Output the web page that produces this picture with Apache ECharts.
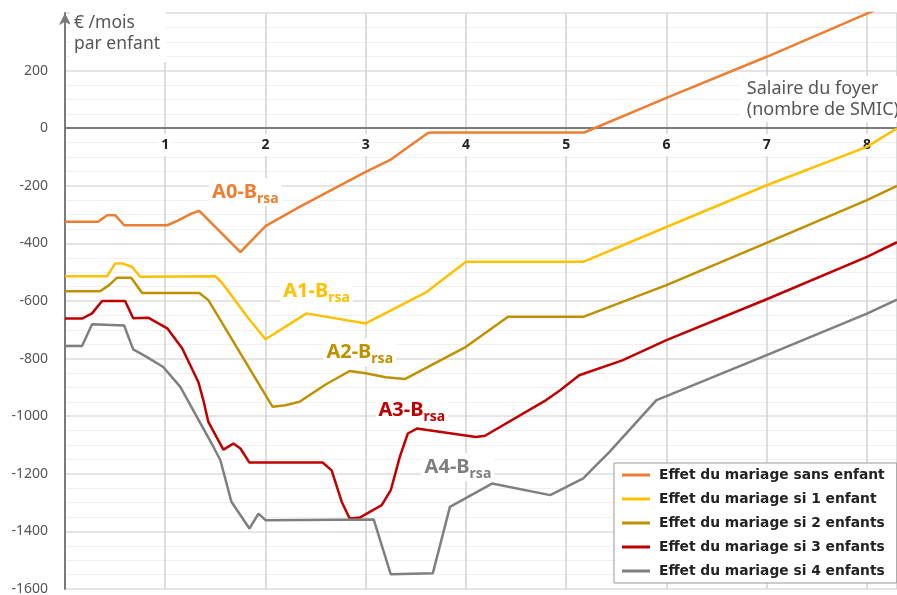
<!DOCTYPE html>
<html>
<head>
<meta charset="utf-8">
<script src="https://cdn.jsdelivr.net/npm/echarts@6/dist/echarts.min.js"></script>
<style>
  html, body { margin: 0; padding: 0; background: #fff; }
  #chart { width: 897px; height: 595px; }
</style>
</head>
<body>
<div id="chart"></div>
<script>
// Effet du mariage (€ / mois par enfant) selon le salaire du foyer (nombre de SMIC)
const seriesNames = [
  'Effet du mariage sans enfant',
  'Effet du mariage si 1 enfant',
  'Effet du mariage si 2 enfants',
  'Effet du mariage si 3 enfants',
  'Effet du mariage si 4 enfants'
];
const curveNames = ['A0', 'A1', 'A2', 'A3', 'A4'];
const colors = ['#ED7D31', '#FFC000', '#BF9000', '#C00000', '#7F7F7F'];

// [salaire (SMIC), effet (€)]
const a0 = [[0,-325],[0.33,-325],[0.42,-302],[0.5,-302],[0.59,-337],[1.02,-337],[1.12,-322],[1.25,-298],[1.34,-287],
  [1.75,-430],[2.0,-340],[2.34,-273],[3.0,-152],[3.24,-111],[3.62,-17],[3.66,-15],[5.18,-15],[6,105],[7,248],[8,398],[8.3,440]];
const a1 = [[0,-514],[0.42,-514],[0.5,-470],[0.58,-470],[0.67,-482],[0.75,-516],[1.5,-514],[1.56,-534],[1.83,-660],
  [2.0,-733],[2.41,-643],[3.0,-678],[3.61,-568],[4.0,-464],[5.17,-464],[6,-343],[7,-198],[8,-65],[8.3,0]];
const a2 = [[0,-566],[0.35,-566],[0.44,-545],[0.52,-519],[0.66,-519],[0.77,-572],[1.34,-572],[1.43,-597],[2.07,-967],
  [2.2,-962],[2.34,-950],[2.6,-890],[2.84,-843],[3.0,-851],[3.2,-865],[3.39,-871],[4.0,-759],[4.42,-655],[5.17,-655],
  [6,-545],[7,-398],[8,-250],[8.3,-200]];
const a3 = [[0,-661],[0.17,-661],[0.27,-643],[0.37,-600],[0.6,-600],[0.68,-660],[0.83,-658],[1.02,-695],[1.17,-765],
  [1.33,-881],[1.38,-944],[1.43,-1020],[1.58,-1116],[1.68,-1095],[1.75,-1112],[1.84,-1161],[2.57,-1161],[2.66,-1188],
  [2.76,-1297],[2.84,-1355],[2.94,-1352],[3.16,-1309],[3.25,-1257],[3.34,-1141],[3.42,-1060],[3.51,-1043],[4.1,-1072],
  [4.19,-1068],[4.8,-944],[4.94,-910],[5.13,-858],[5.56,-806],[6,-736],[7,-594],[8,-447],[8.3,-396]];
const a4 = [[0,-756],[0.17,-756],[0.27,-681],[0.59,-685],[0.68,-768],[0.81,-793],[0.98,-829],[1.15,-898],[1.48,-1106],
  [1.55,-1153],[1.66,-1297],[1.84,-1390],[1.93,-1338],[2.0,-1361],[3.08,-1359],[3.25,-1549],[3.67,-1545],[3.84,-1315],
  [4.26,-1234],[4.84,-1274],[5.17,-1216],[5.3,-1170],[5.43,-1125],[5.9,-944],[6,-930],[7,-788],[8,-644],[8.3,-595]];
const allData = [a0, a1, a2, a3, a4];

// annotation anchors (data coords) for the "Ax-Brsa" labels
const labelAt = [[1.8,-222],[2.51,-566],[2.94,-778],[3.46,-979],[3.92,-1177]];

const yTicks = { min: -1600, max: 400, step: 200 };
const xTicks = { min: 0, max: 8.3, step: 1 };

const font = 'Noto Sans';
const gridTop = 13, gridBottom = 6, H = 595;
// put the x axis (line + labels) on y = 0
const zeroOffset = (H - gridTop - gridBottom) * yTicks.max / (yTicks.max - yTicks.min);

const chart = echarts.init(document.getElementById('chart'));

const series = allData.map((d, i) => ({
  name: seriesNames[i],
  type: 'line',
  data: d,
  showSymbol: false,
  symbol: 'none',
  lineStyle: { width: 2.5, color: colors[i] },
  itemStyle: { color: colors[i] },
  z: 3,
  markPoint: {
    symbol: 'circle',
    symbolSize: 1,
    itemStyle: { color: 'rgba(0,0,0,0)' },
    data: [{ coord: labelAt[i] }],
    label: {
      show: true,
      position: 'inside',
      formatter: '{m|' + curveNames[i] + '-B}{s|rsa}',
      backgroundColor: '#fff',
      padding: [0, 3],
      rich: {
        m: { fontFamily: font, fontSize: 20, fontWeight: 'bold', color: colors[i], lineHeight: 28 },
        s: { fontFamily: font, fontSize: 14, fontWeight: 'bold', color: colors[i], lineHeight: 28, verticalAlign: 'bottom' }
      }
    }
  }
}));

const option = {
  animation: false,
  color: colors,
  textStyle: { fontFamily: font },
  grid: { left: 65, right: 0, top: gridTop, bottom: gridBottom, containLabel: false, outerBoundsMode: 'none' },
  xAxis: {
    type: 'value',
    position: 'top',
    offset: -zeroOffset,
    min: xTicks.min,
    max: xTicks.max,
    interval: xTicks.step,
    axisLine: { show: true, onZero: false, lineStyle: { color: '#7a7a7a', width: 2 } },
    axisTick: { show: false },
    axisLabel: {
      inside: true,
      showMinLabel: false,
      showMaxLabel: false,
      formatter: v => (Number.isInteger(v) && v >= 1 && v <= 8) ? String(v) : '',
      color: '#222',
      fontWeight: 'bold',
      fontSize: 14,
      margin: 6,
      backgroundColor: '#fff',
      padding: [4, 3]
    },
    splitLine: { show: true, lineStyle: { color: '#d2d2d2', width: 1.5 } }
  },
  yAxis: {
    type: 'value',
    min: yTicks.min,
    max: yTicks.max,
    interval: yTicks.step,
    axisLine: {
      show: true, onZero: false,
      lineStyle: { color: '#7a7a7a', width: 2 },
      symbol: ['none', 'arrow'], symbolSize: [9, 12]
    },
    axisTick: { show: false },
    axisLabel: {
      formatter: v => v === 400 ? '' : String(v),
      color: '#555',
      fontSize: 14,
      margin: 17
    },
    splitLine: { show: true, lineStyle: { color: '#dcdcdc', width: 1.5 } },
    minorTick: { show: false, splitNumber: 4 },
    minorSplitLine: { show: true, lineStyle: { color: '#f0f0f0', width: 1 } }
  },
  legend: {
    orient: 'vertical',
    left: 614,
    top: 463,
    backgroundColor: '#fff',
    borderColor: '#999',
    borderWidth: 1,
    padding: [5, 12, 5, 8],
    itemGap: 10,
    itemWidth: 28,
    itemHeight: 3,
    icon: 'rect',
    textStyle: { fontFamily: 'DejaVu Sans', fontSize: 13.8, fontWeight: 'bold', color: '#222', padding: [0, 0, 0, 4] },
    data: seriesNames
  },
  graphic: [
    {
      type: 'text',
      left: 70,
      top: 11,
      z: 10,
      style: {
        text: '€ /mois\npar enfant',
        fontFamily: font,
        fontSize: 17.5,
        lineHeight: 21,
        fill: '#555',
        backgroundColor: '#fff',
        padding: [2, 6, 7, 4]
      }
    },
    {
      type: 'text',
      right: -6,
      top: 76,
      z: 10,
      style: {
        text: 'Salaire du foyer\n(nombre de SMIC)',
        fontFamily: font,
        fontSize: 18,
        lineHeight: 21,
        fill: '#555',
        align: 'right',
        backgroundColor: '#fff',
        padding: [2, 4, 2, 6]
      }
    }
  ],
  series: series
};

chart.setOption(option);
window.addEventListener('resize', () => chart.resize());
</script>
</body>
</html>
